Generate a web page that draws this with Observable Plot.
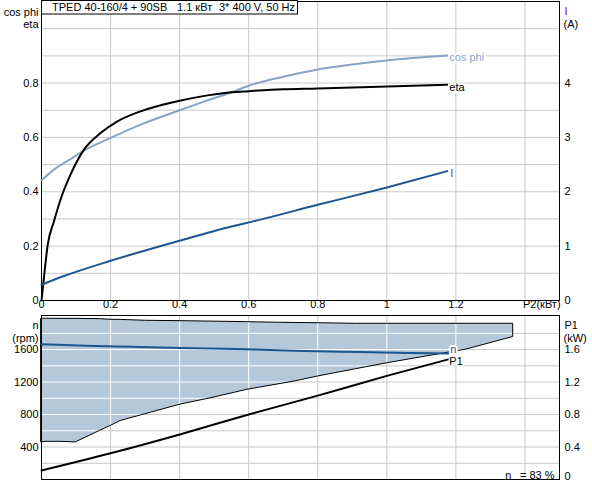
<!DOCTYPE html>
<html><head><meta charset="utf-8">
<script src="https://cdn.jsdelivr.net/npm/d3@7"></script>
<script src="https://cdn.jsdelivr.net/npm/@observablehq/plot@0.6"></script>
<style>
html,body{margin:0;padding:0;background:#fff;overflow:hidden;}
#chart{width:592px;height:480px;}
#chart svg{display:block;}
</style></head><body><div id="chart"></div>
<script>
// ---- data (top panel) ----
const p2Eta = [0, 0.005, 0.009, 0.018, 0.036, 0.06, 0.084, 0.123, 0.171, 0.22, 0.287, 0.4, 0.46, 0.55, 0.6, 0.7, 0.8, 0.9, 1.0, 1.175];
const eta   = [0, 0.06, 0.107, 0.205, 0.291, 0.389, 0.463, 0.555, 0.616, 0.659, 0.696, 0.735, 0.750, 0.766, 0.770, 0.777, 0.780, 0.784, 0.787, 0.794];
const p2Cos = [0, 0.04, 0.084, 0.128, 0.2, 0.287, 0.4, 0.46, 0.55, 0.6, 0.7, 0.8, 0.9, 1.0, 1.175];
const cosPhi = [0.442, 0.485, 0.52, 0.555, 0.598, 0.647, 0.700, 0.727, 0.766, 0.790, 0.823, 0.850, 0.868, 0.883, 0.901];
const p2I = [0, 0.065, 0.2, 0.4, 0.55, 0.616, 0.8, 1.0, 1.175];
const current = [0.29, 0.45, 0.73, 1.10, 1.36, 1.46, 1.76, 2.08, 2.38];
// ---- data (bottom panel) ----
const p2Band = [0, 0.012, 0.055, 0.099, 0.17, 0.2, 0.229, 0.3, 0.403, 0.49, 0.597, 0.63, 0.733, 0.8, 0.91, 1.0, 1.231, 1.366];
const nBandHigh = [1980, 1980, 1979, 1979, 1975, 1967, 1966, 1955, 1950, 1945, 1938, 1935, 1928, 1925, 1918, 1918, 1918, 1918];
const nBandLow  = [457, 464, 464, 457, 600, 659, 720, 803, 923, 1000, 1106, 1130, 1207, 1268, 1358, 1431, 1601, 1755];
const p2N = [0, 0.13, 0.26, 0.4, 0.565, 0.685, 0.8, 0.92, 1.07, 1.178];
const speed = [1665, 1647, 1634, 1621, 1606, 1593, 1579, 1569, 1558, 1552];
const p2P1 = [0, 0.2, 0.403, 0.6, 0.8, 1.0, 1.178];
const p1 = [0.111, 0.323, 0.558, 0.801, 1.033, 1.276, 1.48];
// ---- ticks / labels ----
const xTicks = [0, 0.2, 0.4, 0.6, 0.8, 1, 1.2];
const xTickLabels = ["0", "0.2", "0.4", "0.6", "0.8", "1", "1.2"];
const xGrid = [0.2, 0.4, 0.6, 0.8, 1.0, 1.2, 1.4];
const yGridTop = [0.1, 0.2, 0.3, 0.4, 0.5, 0.6, 0.7, 0.8, 0.9, 1.0];
const etaTicks = [0, 0.2, 0.4, 0.6, 0.8];
const etaTickLabels = ["0", "0.2", "0.4", "0.6", "0.8"];
const iTicks = [0, 1, 2, 3, 4];
const yGridBottom = [200, 400, 600, 800, 1000, 1200, 1400, 1600, 1800];
const rpmTicks = [400, 800, 1200, 1600];
const p1Ticks = [0.4, 0.8, 1.2, 1.6];
const p1TickLabels = ["0.4", "0.8", "1.2", "1.6"];
const titleParts = ["TPED 40-160/4 + 90SB", "1.1 кВт", "3* 400 V, 50 Hz"];
const effText = "n\u2002 = 83 %";

const rows = (xs, ys) => xs.map((x, i) => ({x, y: ys[i]}));
const etaRows = rows(p2Eta, eta);
const cosRows = rows(p2Cos, cosPhi);
const iRows = rows(p2I, current);
const bandRows = p2Band.map((x, i) => ({x, lo: nBandLow[i], hi: nBandHigh[i]}));
const nRows = rows(p2N, speed);
const p1Rows = rows(p2P1, p1);

const FONT = "'Liberation Sans', Arial, sans-serif";
const GRID = "#c8c8c8";
const COS = "#86a4c6";
const IBLUE = "#1b5690";
const common = {width: 592, marginLeft: 41, marginRight: 33,
  style: {fontFamily: FONT, fontSize: "11px", background: "white", color: "black"}};

const topPlot = Plot.plot({
  ...common, height: 314, marginTop: 1, marginBottom: 14,
  x: {domain: [0, 1.5], axis: null},
  y: {domain: [0, 1.1], axis: null},
  marks: [
    Plot.ruleX(xGrid, {x: d => d, stroke: GRID}),
    Plot.ruleY(yGridTop, {y: d => d, stroke: GRID}),
    Plot.frame({stroke: "black"}),
    Plot.line(cosRows, {x: "x", y: "y", stroke: COS, strokeWidth: 2, curve: "monotone-x"}),
    Plot.line(etaRows, {x: "x", y: "y", stroke: "black", strokeWidth: 2, curve: "monotone-x"}),
    Plot.line(iRows, {x: "x", y: d => d.y / 5, stroke: IBLUE, strokeWidth: 2, curve: "monotone-x"}),
    Plot.text([cosRows[cosRows.length - 1]], {x: "x", y: "y", text: () => "cos phi", textAnchor: "start", dx: 2, dy: 2, fill: COS, stroke: "white", strokeWidth: 4, paintOrder: "stroke"}),
    Plot.text([etaRows[etaRows.length - 1]], {x: "x", y: "y", text: () => "eta", textAnchor: "start", dx: 2, dy: 3, fill: "black", stroke: "white", strokeWidth: 4, paintOrder: "stroke"}),
    Plot.text([iRows[iRows.length - 1]], {x: "x", y: d => d.y / 5, text: () => "I", textAnchor: "start", dx: 3, dy: 2, fill: "#5050a8", stroke: "white", strokeWidth: 4, paintOrder: "stroke"}),
    // left axis
    Plot.text(etaTicks, {y: d => d, text: (d, i) => etaTickLabels[i], frameAnchor: "left", textAnchor: "end", dx: -3, fill: "black"}),
    Plot.text(["cos phi"], {text: d => d, frameAnchor: "top-left", textAnchor: "end", dx: -3, dy: 7, fill: "black"}),
    Plot.text(["eta"], {text: d => d, frameAnchor: "top-left", textAnchor: "end", dx: -3, dy: 19, fill: "black"}),
    // right axis
    Plot.text(iTicks, {y: d => d / 5, text: d => String(d), frameAnchor: "right", textAnchor: "start", dx: 5, fill: "black"}),
    Plot.text(["I"], {text: d => d, frameAnchor: "top-right", textAnchor: "start", dx: 5, dy: 6, fill: "#800080"}),
    Plot.text(["(A)"], {text: d => d, frameAnchor: "top-right", textAnchor: "start", dx: 4, dy: 19, fill: "black"}),
    // x axis labels
    Plot.text(xTicks, {x: d => d, text: (d, i) => xTickLabels[i], frameAnchor: "bottom", dy: 7, fill: "black"}),
    Plot.text([1.4], {x: d => d, text: () => "P2(кВт)", frameAnchor: "bottom", textAnchor: "start", dx: -2, dy: 7, fill: "black"})
  ]
});

const bottomPlot = Plot.plot({
  ...common, height: 166, marginTop: 1, marginBottom: 1,
  x: {domain: [0, 1.5], axis: null},
  y: {domain: [0, 2020], axis: null},
  marks: [
    Plot.ruleX(xGrid, {x: d => d, stroke: GRID}),
    Plot.ruleY(yGridBottom, {y: d => d, stroke: GRID}),
    Plot.area(bandRows, {x1: "x", y1: "lo", y2: "hi", fill: "#b4c8da"}),
    Plot.ruleX(xGrid, {x: d => d, stroke: "white"}),
    Plot.ruleY(yGridBottom, {y: d => d, stroke: "white"}),
    Plot.area(bandRows, {x1: "x", y1: "lo", y2: "hi", fill: "none", stroke: "black", strokeWidth: 1}),
    Plot.frame({stroke: "black"}),
    Plot.line(nRows, {x: "x", y: "y", stroke: IBLUE, strokeWidth: 2, curve: "monotone-x"}),
    Plot.line(p1Rows, {x: "x", y: d => d.y * 1000, stroke: "black", strokeWidth: 2, curve: "monotone-x"}),
    Plot.text([nRows[nRows.length - 1]], {x: "x", y: "y", text: () => "n", textAnchor: "start", dx: 2, dy: -4, fill: IBLUE, stroke: "white", strokeWidth: 4, paintOrder: "stroke"}),
    Plot.text([p1Rows[p1Rows.length - 1]], {x: "x", y: d => d.y * 1000, text: () => "P1", textAnchor: "start", dx: 1, dy: 2, fill: "black", stroke: "white", strokeWidth: 3, paintOrder: "stroke"}),
    // left axis
    Plot.text(rpmTicks, {y: d => d, text: d => String(d), frameAnchor: "left", textAnchor: "end", dx: -3, fill: "black"}),
    Plot.text(["n"], {text: d => d, frameAnchor: "top-left", textAnchor: "end", dx: -3, dy: 6, fill: "black"}),
    Plot.text(["(rpm)"], {text: d => d, frameAnchor: "top-left", textAnchor: "end", dx: -3, dy: 19, fill: "black"}),
    // right axis
    Plot.text(p1Ticks, {y: d => d * 1000, text: (d, i) => p1TickLabels[i], frameAnchor: "right", textAnchor: "start", dx: 5, fill: "black"}),
    Plot.text([0], {y: d => d, text: () => "0", frameAnchor: "right", textAnchor: "start", lineAnchor: "bottom", dx: 5, fill: "black"}),
    Plot.text(["P1"], {text: d => d, frameAnchor: "top-right", textAnchor: "start", dx: 5, dy: 6, fill: "black"}),
    Plot.text(["(kW)"], {text: d => d, frameAnchor: "top-right", textAnchor: "start", dx: 4, dy: 19, fill: "black"}),
    Plot.text([effText], {text: d => d, frameAnchor: "bottom-right", textAnchor: "end", lineAnchor: "bottom", dx: -5, dy: -1, fill: "black"})
  ]
});

// clip white grid lines to the shaded band
(function () {
  const ns = "http://www.w3.org/2000/svg";
  const svg = bottomPlot.tagName.toLowerCase() === "svg" ? bottomPlot : bottomPlot.querySelector("svg");
  const areaPath = svg.querySelector('g[aria-label="area"] path');
  if (!areaPath) return;
  const defs = document.createElementNS(ns, "defs");
  const cp = document.createElementNS(ns, "clipPath");
  cp.setAttribute("id", "bandclip");
  const clone = areaPath.cloneNode();
  const t = areaPath.parentNode.getAttribute("transform");
  if (t) clone.setAttribute("transform", t);
  clone.removeAttribute("fill"); clone.removeAttribute("stroke");
  cp.appendChild(clone);
  defs.appendChild(cp);
  svg.insertBefore(defs, svg.firstChild);
  const rules = svg.querySelectorAll('g[aria-label="rule"]');
  if (rules.length >= 4) {
    rules[2].setAttribute("clip-path", "url(#bandclip)");
    rules[3].setAttribute("clip-path", "url(#bandclip)");
  }
})();

// title box
(function () {
  const svg = d3.select(topPlot.tagName.toLowerCase() === "svg" ? topPlot : topPlot.querySelector("svg"));
  const g = svg.append("g").attr("text-anchor", "start");
  g.append("rect").attr("x", 41.5).attr("y", 0.5).attr("width", 256).attr("height", 13.5)
    .attr("fill", "white").attr("stroke", "black");
  const xs = [52, 177, 219];
  titleParts.forEach((s, i) => {
    g.append("text").attr("x", xs[i]).attr("y", 11).attr("fill", "black")
      .attr("text-anchor", "start")
      .attr("font-family", FONT).attr("font-size", 11).text(s);
  });
})();

document.getElementById("chart").append(topPlot, bottomPlot);
</script>
</body></html>
